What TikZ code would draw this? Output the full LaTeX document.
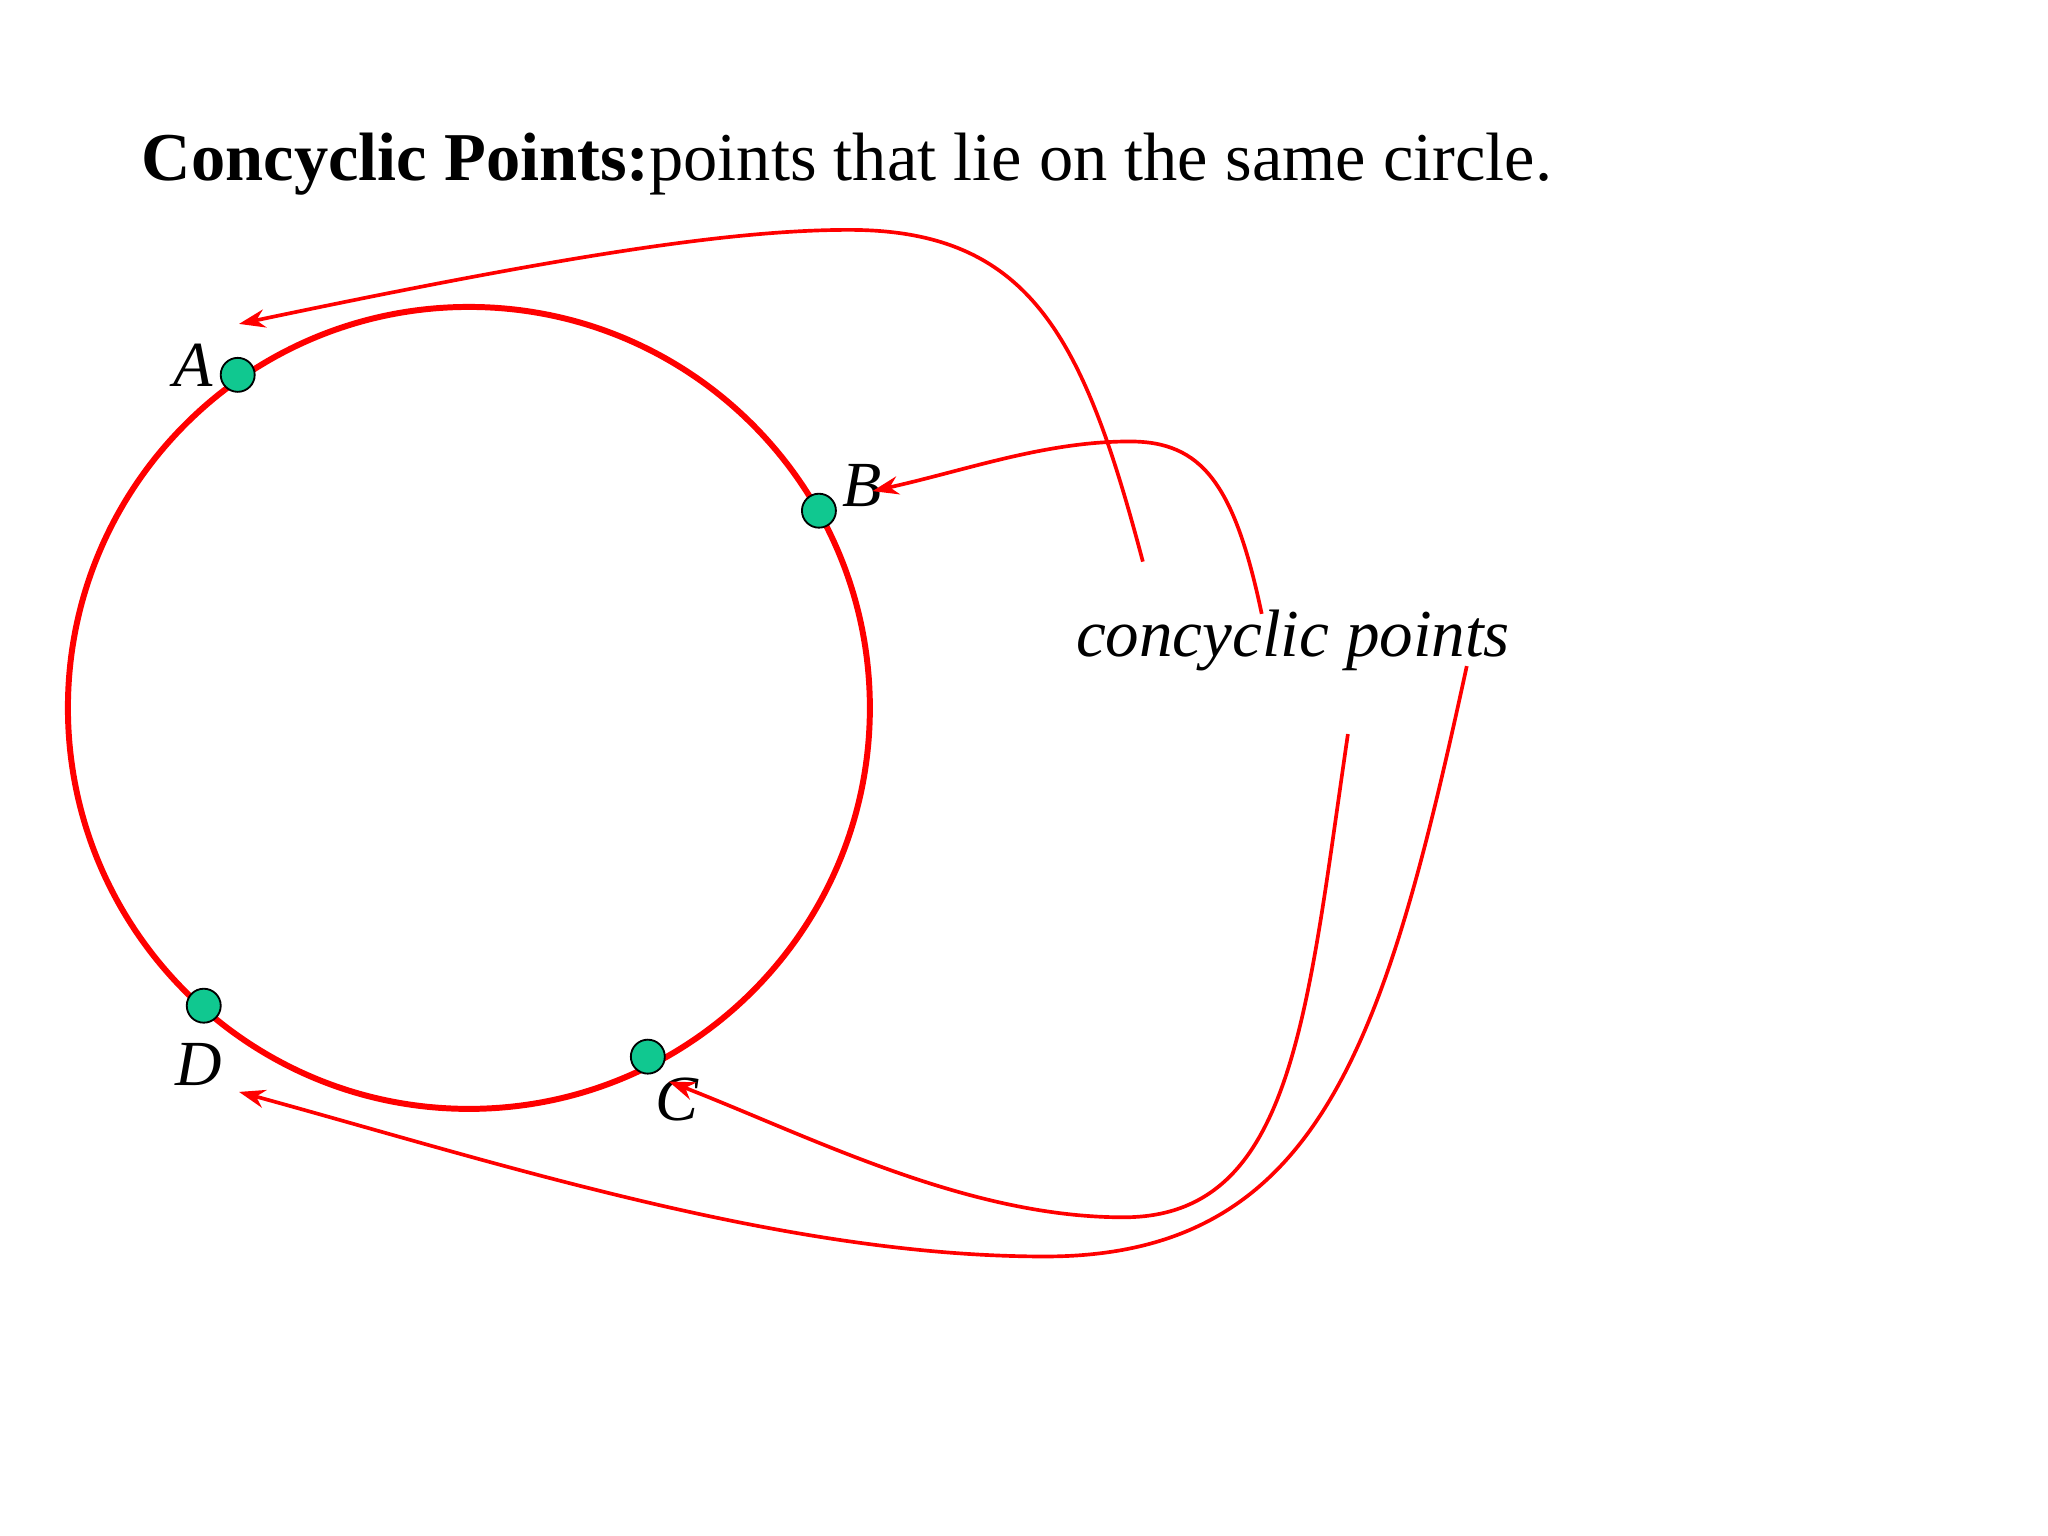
\documentclass[tikz,border=0pt]{standalone}
\usepackage{fontspec}
\setmainfont{Liberation Serif}
\usetikzlibrary{arrows.meta}
\definecolor{ptc}{HTML}{10C890}
\begin{document}
\begin{tikzpicture}[x=0.01cm,y=-0.01cm,
  pt/.style={circle,draw=black,fill=ptc,minimum size=0.26cm,inner sep=0pt},
  lbl/.style={font=\fontsize{14}{16}\selectfont\itshape},
  arr/.style={red,line width=0.8pt,-{Stealth[length=0.2cm,width=0.14cm]}}]
\useasboundingbox (0,0) rectangle (1568,1176);
\node[anchor=base west,font=\fontsize{14.9}{17}\selectfont,inner sep=0] (title) at (108,138) {\textbf{Concyclic Points:}points that lie on the same circle.};
\draw[red,line width=1.3pt] (359,542) circle (307);
\node[pt] (A) at (182,287) {};
\node[pt] (B) at (627,391) {};
\node[pt] (C) at (496,809) {};
\node[pt] (D) at (156,770) {};
\node[lbl] (la) at (148,280) {A};
\node[lbl] (lb) at (660,372) {B};
\node[lbl] (lc) at (518,842) {C};
\node[lbl] (ld) at (152,815) {D};
\node[lbl,font=\fontsize{14.6}{17}\selectfont\itshape] (cp) at (990,490) {concyclic points};
\coordinate (s1) at (875,430);
\coordinate (s2) at (966,470);
\coordinate (s3) at (1032,562);
\coordinate (s4) at (1123,510);
\coordinate (ta) at (183,248);
\coordinate (tb) at (668,376);
\coordinate (tc) at (512,828);
\coordinate (td) at (183,836);
\draw[arr] (s1) .. controls (830,260) and (790,176) .. (650,176) .. controls (560,176) and (430,196) .. (ta);
\draw[arr] (s2) .. controls (945,370) and (920,338) .. (865,338) .. controls (800,338) and (740,360) .. (tb);
\draw[arr] (s3) .. controls (1000,780) and (990,932) .. (860,932) .. controls (740,932) and (620,870) .. (tc);
\draw[arr] (s4) .. controls (1060,800) and (1010,962) .. (800,962) .. controls (600,962) and (380,890) .. (td);
\end{tikzpicture}
\end{document}
